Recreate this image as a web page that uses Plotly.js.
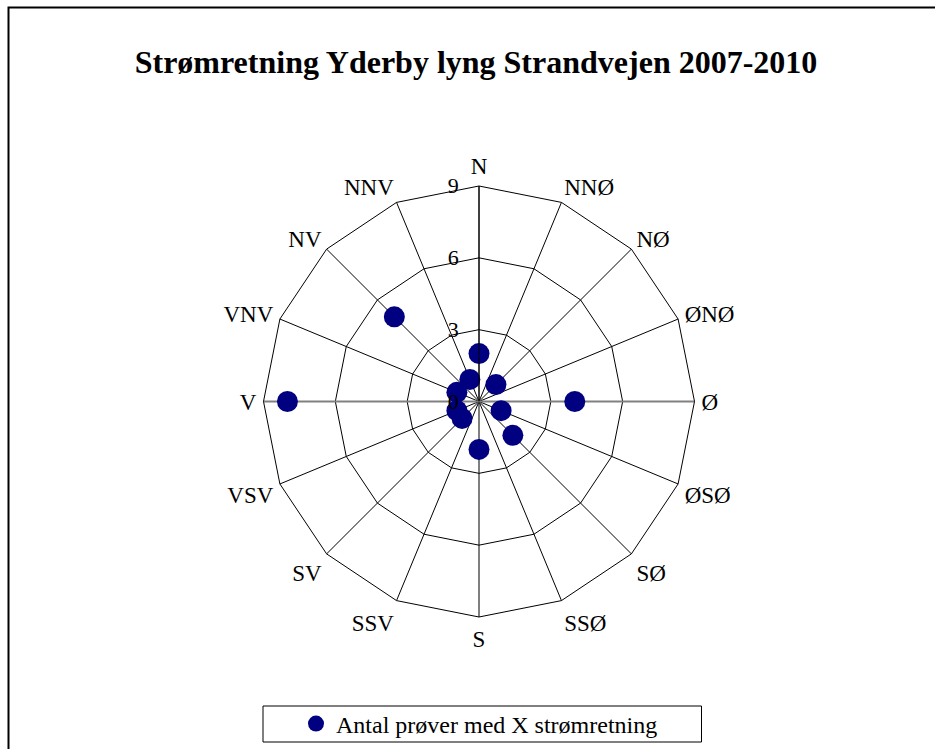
<!DOCTYPE html>
<html>
<head>
<meta charset="utf-8">
<script src="https://cdn.plot.ly/plotly-3.0.1.min.js"></script>
<style>html,body{margin:0;padding:0;background:#fff;}#chart{width:935px;height:749px;}</style>
</head>
<body>
<div id="chart"></div>
<script>
const directions = ["N","NNØ","NØ","ØNØ","Ø","ØSØ","SØ","SSØ","S","SSV","SV","VSV","V","VNV","NV","NNV"];
const counts = [2,0,1,0,4,1,2,0,2,0,1,1,8,1,5,1];
const radialTicks = [0,3,6,9];
const seriesName = "Antal prøver med X strømretning";
const titleText = "Strømretning Yderby lyng Strandvejen 2007-2010";

const W = 935, H = 749;
const serif = "Liberation Serif, Times New Roman, serif";
const rMax = radialTicks[radialTicks.length - 1];

const data = [
  {
    type: "scatterpolar",
    r: [rMax, 0, rMax],
    theta: [directions[12], directions[0], directions[4]],
    mode: "lines",
    line: {color: "#808080", width: 2},
    showlegend: false,
    hoverinfo: "skip"
  },
  {
    type: "scatterpolar",
    r: counts,
    theta: directions,
    mode: "markers",
    name: seriesName,
    marker: {color: "#000080", size: 21}
  }
];

const cx = 479, cy = 401.5, R = 215.5;
const layout = {
  width: W, height: H,
  margin: {l: 0, r: 0, t: 0, b: 0},
  paper_bgcolor: "#fff",
  font: {family: serif, color: "#000", size: 23},
  title: {
    text: "<b>" + titleText + "</b>",
    font: {family: serif, size: 32, color: "#000"},
    x: 476 / W, xanchor: "center",
    y: 1 - 62 / H, yanchor: "middle"
  },
  showlegend: true,
  legend: {
    x: 296 / W, y: 1 - 724 / H, xanchor: "left", yanchor: "middle",
    borderwidth: 0, bgcolor: "rgba(0,0,0,0)",
    font: {family: serif, size: 24, color: "#000"},
    itemwidth: 30
  },
  polar: {
    domain: {x: [(cx - R) / W, (cx + R) / W], y: [1 - (cy + R) / H, 1 - (cy - R) / H]},
    bgcolor: "#fff",
    gridshape: "linear",
    angularaxis: {
      type: "category",
      categoryarray: directions,
      direction: "clockwise",
      rotation: 90,
      showline: true, linecolor: "#000", linewidth: 1,
      showgrid: true, gridcolor: "#000", gridwidth: 1,
      ticks: "outside", ticklen: 2, tickcolor: "rgba(0,0,0,0)",
      tickfont: {family: serif, size: 23, color: "#000"}
    },
    radialaxis: {
      range: [0, rMax],
      tickvals: radialTicks,
      angle: 90,
      side: "counterclockwise",
      showline: true, linecolor: "#000", linewidth: 1,
      showgrid: true, gridcolor: "#000", gridwidth: 1,
      ticks: "outside", ticklen: 12, tickcolor: "rgba(0,0,0,0)",
      tickangle: 90,
      tickfont: {family: serif, size: 22, color: "#000"}
    }
  },
  shapes: [
    {type: "rect", xref: "paper", yref: "paper",
     x0: 8.5 / W, x1: (W + 10) / W, y0: -10 / H, y1: 1 - 7.5 / H,
     line: {color: "#000", width: 2}, fillcolor: "rgba(0,0,0,0)"},
    {type: "rect", xref: "paper", yref: "paper",
     x0: 263 / W, x1: 701.5 / W, y0: 1 - 742 / H, y1: 1 - 706 / H,
     line: {color: "#000", width: 1}, fillcolor: "rgba(0,0,0,0)", layer: "below"}
  ]
};

Plotly.newPlot("chart", data, layout, {displayModeBar: false, staticPlot: true});
</script>
</body>
</html>
